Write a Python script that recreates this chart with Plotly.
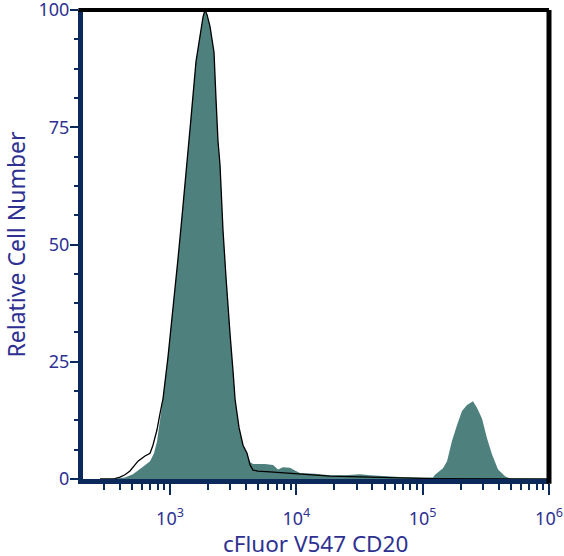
import plotly.graph_objects as go

# CD20-stained sample (filled)
stain_x = [335, 402, 440, 509, 558, 611, 695, 747, 789, 834, 881, 964, 1056, 1157, 1245,
           1363, 1467, 1606, 1728, 1825, 1892, 1963, 2073, 2230, 2313, 2399, 2488, 2628,
           2775, 2879, 2986, 3154, 3273, 3517, 3784, 4072, 4300, 4540, 5652, 6538, 7160,
           7840, 8910, 9750, 10690, 14060, 18490, 24290, 31920, 38310, 50350, 66170,
           95270, 120700, 125300, 144800, 155900, 170600, 187100, 204800, 224300, 250200,
           269100, 294800, 323000, 354000, 395000, 449000, 491000, 1000000]
stain_y = [0, 0.2, 0.3, 1.0, 1.9, 2.6, 3.8, 5.5, 8, 12.5, 17.2, 26, 36, 47, 56,
           67, 77, 89, 95, 98.5, 100, 99, 96.5, 91, 81, 72, 67, 53,
           43, 36, 31, 23, 17, 11, 7.2, 5.5, 3.6, 3.2, 3.2, 3.0, 2.0,
           2.5, 2.4, 1.8, 1.3, 1.1, 0.8, 0.8, 1.0, 0.8, 0.6, 0.4,
           0.3, 0.3, 0.9, 2.3, 3.8, 8.1, 11.5, 14.5, 15.8, 16.6,
           15.2, 12.9, 8.7, 5.2, 2.0, 0.6, 0.1, 0]

# Control sample (black outline)
ctrl_x = [279, 367, 402, 440, 482, 519, 558, 634, 695, 733, 789, 834, 881, 964, 1056, 1157,
          1245, 1363, 1467, 1606, 1728, 1825, 1892, 1963, 2073, 2230, 2313, 2399, 2488,
          2628, 2775, 2879, 2986, 3154, 3273, 3517, 3784, 4072, 4300, 4540, 4974, 6192,
          7840, 10690, 18490, 38310, 66170, 114300, 1000000]
ctrl_y = [0, 0.1, 0.4, 0.9, 1.7, 2.8, 3.8, 4.9, 5.5, 7.2, 10.5, 14, 17.2, 26, 36, 47,
          56, 67, 77, 89, 95, 98.5, 100, 99, 96.5, 91, 81, 72, 67,
          53, 43, 36, 31, 23, 17, 11, 7.2, 5.5, 3.0, 1.9, 1.7, 1.5,
          1.3, 0.9, 0.6, 0.4, 0.2, 0.1, 0]

x_major = [1e3, 1e4, 1e5, 1e6]
x_major_text = ["10<sup>3</sup>", "10<sup>4</sup>", "10<sup>5</sup>", "10<sup>6</sup>"]
x_minor = [m * 10 ** e for e in (2, 3, 4, 5) for m in range(2, 10) if m * 10 ** e > 250]
y_ticks = [0, 25, 50, 75, 100]
x_title = "cFluor V547 CD20"
y_title = "Relative Cell Number"

NAVY = "#0B2A5B"
LABEL = "#2E3192"
TEAL = "#4E807D"
FONT = "Noto Sans"

fig = go.Figure()
fig.add_trace(go.Scatter(x=stain_x, y=stain_y, mode="lines", fill="tozeroy",
                         fillcolor=TEAL, line=dict(width=0, color=TEAL),
                         hoverinfo="skip", showlegend=False))
fig.add_trace(go.Scatter(x=ctrl_x, y=ctrl_y, mode="lines",
                         line=dict(width=1.3, color="black"),
                         hoverinfo="skip", showlegend=False))

fig.update_layout(
    width=564, height=556,
    margin=dict(l=83, r=15, t=9.5, b=77, pad=0),
    paper_bgcolor="white", plot_bgcolor="white",
    font=dict(family=FONT, color=LABEL),
    xaxis=dict(type="log", range=[2.3113, 6.0], automargin=False,
               showline=True, linecolor=NAVY, linewidth=5,
               showgrid=False, zeroline=False,
               tickmode="array", tickvals=x_major, ticktext=x_major_text,
               ticks="outside", ticklen=11, tickwidth=1.5, tickcolor=NAVY,
               ticklabelstandoff=8, ticklabeloverflow="allow",
               tickfont=dict(size=18, color=LABEL, family=FONT),
               minor=dict(tickmode="array", tickvals=x_minor, ticks="outside",
                          ticklen=6, tickwidth=1.5, tickcolor=NAVY, showgrid=False)),
    yaxis=dict(range=[0, 100], automargin=False,
               showline=True, linecolor=NAVY, linewidth=5,
               showgrid=False, zeroline=False,
               tickmode="array", tickvals=y_ticks,
               ticks="outside", ticklen=8, tickwidth=1.5, tickcolor=NAVY,
               ticklabelstandoff=-3, ticklabeloverflow="allow",
               tickfont=dict(size=18, color=LABEL, family=FONT),
               minor=dict(dtick=6.25, tick0=0, ticks="outside", ticklen=4,
                          tickwidth=1.5, tickcolor=NAVY, showgrid=False),
               title=dict(text=y_title, font=dict(size=23, color=LABEL, family=FONT),
                          standoff=17)),
    annotations=[
        dict(text=x_title, xref="paper", yref="paper", x=0.498, y=0,
             xanchor="center", yanchor="middle", yshift=-64, showarrow=False,
             font=dict(size=22.5, color=LABEL, family=FONT)),
    ],
    shapes=[
        dict(type="line", xref="paper", yref="paper", x0=-0.01, x1=1.0, y0=1, y1=1,
             line=dict(color="black", width=4), layer="above"),
        dict(type="line", xref="paper", yref="paper", x0=1, x1=1, y0=-0.01, y1=1.0,
             line=dict(color="black", width=5), layer="above"),
    ],
)

fig.write_html("out.html", config={"displayModeBar": False},
               post_script="document.body.style.margin='0px';")
